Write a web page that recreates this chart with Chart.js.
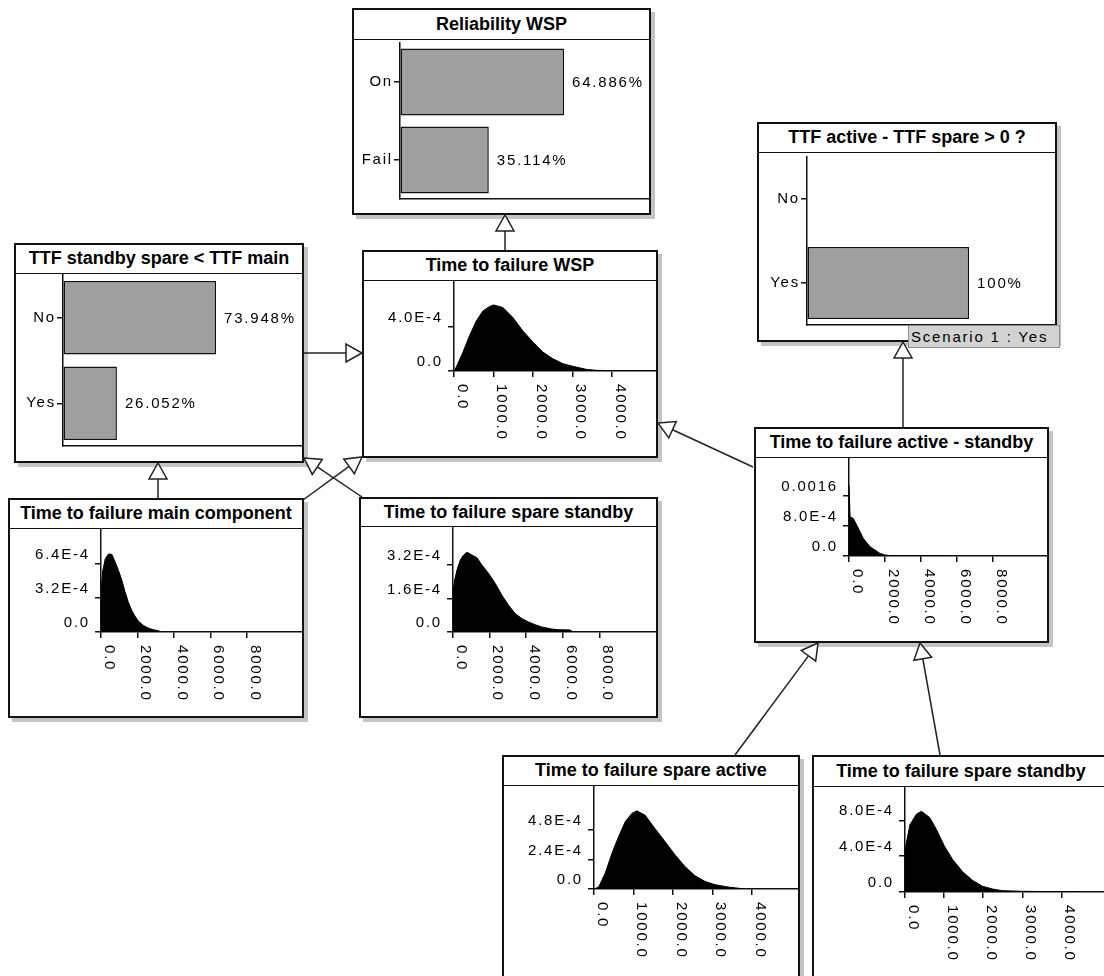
<!DOCTYPE html>
<html>
<head>
<meta charset="utf-8">
<script src="https://cdn.jsdelivr.net/npm/chart.js@4.4.1/dist/chart.umd.min.js"></script>
<style>
html, body { margin: 0; padding: 0; background: #fff; }
body { width: 1104px; height: 976px; position: relative; overflow: hidden; font-family: "Liberation Sans", Arial, sans-serif; }
.node { position: absolute; box-sizing: border-box; border: 2px solid #111; background: #fff; box-shadow: 4px 4px 0 #c4c4c4; }
.node .title { box-sizing: border-box; border-bottom: 1.5px solid #111; font-weight: bold; font-size: 18px; text-align: center; white-space: nowrap; color: #000; }
canvas.plot { position: absolute; }
#links { position: absolute; left: 0; top: 0; z-index: 5; }
.scenario { position: absolute; left: 908px; top: 325px; width: 152px; height: 23px; box-sizing: border-box; background: #d2d2d2; border: 1px solid #8c8c8c; font-size: 15px; letter-spacing: 1.8px; line-height: 21px; padding-left: 2px; white-space: nowrap; z-index: 6; }
</style>
</head>
<body>
<svg id="links" width="1104" height="976"></svg>
<div class="scenario">Scenario 1 : Yes</div>
<script>
// ---- data ----
// discrete nodes (percent)
const reliabilityStates = ['On', 'Fail'];
const reliabilityPct = [64.886, 35.114];
const standbyLessStates = ['No', 'Yes'];
const standbyLessPct = [73.948, 26.052];
const activeMinusStates = ['No', 'Yes'];
const activeMinusPct = [0, 100];

// continuous nodes: bin x, density in units of 1E-4
const wspX = [0, 59, 228, 397, 565, 734, 903, 1004, 1240, 1494, 1747, 2000, 2253, 2506, 2759, 3013, 3350, 3600, 4000, 5120];
const wspY = [0, 0.36, 1.7, 3.2, 4.5, 5.4, 5.8, 5.94, 5.7, 4.8, 3.6, 2.6, 1.7, 1.1, 0.66, 0.42, 0.15, 0.06, 0.03, 0.03];

const diffX = [0, 50, 60, 240, 426, 611, 796, 981, 1167, 1444, 1722, 2000, 2300, 5600, 5650];
const diffY = [19, 19, 10.5, 10, 8.3, 6.5, 4.7, 3.6, 2.5, 1.6, 0.7, 0.27, 0.1, 0.1, 0];

const mainX = [0, 90, 234, 414, 595, 775, 955, 1135, 1315, 1495, 1676, 1856, 2036, 2306, 2576, 2847, 3117, 3300];
const mainY = [3.9, 5.7, 6.9, 7.35, 7.3, 6.6, 5.8, 4.9, 3.8, 2.8, 2.05, 1.5, 1.04, 0.63, 0.38, 0.22, 0.13, 0];

const spareSbX = [0, 91, 218, 400, 582, 764, 1036, 1309, 1582, 1945, 2309, 2673, 3036, 3400, 3764, 4127, 4491, 4855, 5400, 5764, 6400, 6450];
const spareSbY = [1.92, 2.48, 2.96, 3.44, 3.68, 3.81, 3.68, 3.55, 3.2, 2.8, 2.32, 1.76, 1.28, 0.88, 0.64, 0.48, 0.35, 0.24, 0.14, 0.11, 0.1, 0];

const spareActX = [0, 118, 286, 454, 622, 790, 958, 1084, 1294, 1546, 1798, 2050, 2300, 2555, 2807, 3059, 3395, 3689, 3750];
const spareActY = [0, 0.16, 1.3, 2.9, 4.26, 5.47, 6.15, 6.36, 6.0, 4.9, 3.85, 2.78, 1.83, 1.08, 0.62, 0.35, 0.16, 0.05, 0];

const spareSb2X = [0, 126, 295, 421, 632, 800, 1010, 1221, 1474, 1726, 1979, 2232, 2484, 2990, 3500, 4421, 4450];
const spareSb2Y = [4.7, 7.5, 8.7, 9.0, 8.3, 7.0, 5.1, 3.6, 2.26, 1.3, 0.64, 0.34, 0.15, 0.08, 0.05, 0.05, 0];

// tick values / labels
const ticks1k = [0, 1000, 2000, 3000, 4000];
const ticks2k = [0, 2000, 4000, 6000, 8000];
const wspYTicks = [0, 4e-4], wspYLabels = ['0.0', '4.0E-4'];
const diffYTicks = [0, 8e-4, 16e-4], diffYLabels = ['0.0', '8.0E-4', '0.0016'];
const mainYTicks = [0, 3.2e-4, 6.4e-4], mainYLabels = ['0.0', '3.2E-4', '6.4E-4'];
const spareSbYTicks = [0, 1.6e-4, 3.2e-4], spareSbYLabels = ['0.0', '1.6E-4', '3.2E-4'];
const spareActYTicks = [0, 2.4e-4, 4.8e-4], spareActYLabels = ['0.0', '2.4E-4', '4.8E-4'];
const spareSb2YTicks = [0, 4e-4, 8e-4], spareSb2YLabels = ['0.0', '4.0E-4', '8.0E-4'];

// ---- helpers ----
const FONT = '"Liberation Sans", Arial, sans-serif';
const INK = '#111';

Chart.register({
  id: 'spacing',
  beforeDraw(chart) { chart.ctx.letterSpacing = '1.8px'; }
});

function makeNode(title, b) {
  const d = document.createElement('div');
  d.className = 'node';
  Object.assign(d.style, { left: b.x + 'px', top: b.y + 'px', width: b.w + 'px', height: b.h + 'px' });
  const t = document.createElement('div');
  t.className = 'title';
  t.style.height = (b.t - 2) + 'px';
  t.style.lineHeight = (b.t - 3.5) + 'px';
  t.textContent = title;
  d.appendChild(t);
  document.body.appendChild(d);
  const c = document.createElement('canvas');
  c.className = 'plot';
  const cl = b.x + 2, ct = b.y + b.t, cw = b.w - 4, ch = b.h - b.t - 2;
  c.width = cw; c.height = ch;
  Object.assign(c.style, { left: cl + 'px', top: ct + 'px', width: cw + 'px', height: ch + 'px' });
  document.body.appendChild(c);
  return { canvas: c, cl, ct, cw, ch };
}

function axisStyle() {
  return {
    grid: { drawOnChartArea: false, drawTicks: true, tickLength: 6, color: INK, lineWidth: 1.5 },
    border: { display: true, color: INK, width: 1.5 }
  };
}

function histNode(title, b, xs, ys, xTicks, xMax, yTicks, yLabels, yMax, axisX, axisY, axisTop) {
  const n = makeNode(title, b);
  const yW = axisX - n.cl, xH = n.ct + n.ch - axisY, padTop = Math.max(0, axisTop - n.ct);
  const xLabels = {
    id: 'xlabels',
    afterDraw(chart) {
      const s = chart.scales.x, ctx = chart.ctx;
      ctx.save();
      ctx.font = '15px ' + FONT;
      ctx.letterSpacing = '1.8px';
      ctx.fillStyle = '#000';
      s.ticks.forEach(t => {
        const px = s.getPixelForValue(t.value);
        ctx.save();
        ctx.translate(px + 8, s.top + 13);
        ctx.rotate(Math.PI / 2);
        ctx.textAlign = 'left';
        ctx.textBaseline = 'middle';
        ctx.fillText(t.value.toFixed(1), 0, 0);
        ctx.restore();
      });
      ctx.restore();
    }
  };
  new Chart(n.canvas, {
    type: 'line',
    data: {
      datasets: [{
        data: xs.map((x, i) => ({ x: x, y: ys[i] * 1e-4 })),
        borderColor: '#000', borderWidth: 1, backgroundColor: '#000',
        fill: 'origin', pointRadius: 0, tension: 0
      }]
    },
    options: {
      responsive: false, animation: false, events: [],
      layout: { padding: { top: padTop, left: 0, right: 0, bottom: 0 } },
      plugins: { legend: { display: false }, tooltip: { enabled: false } },
      scales: {
        x: Object.assign(axisStyle(), {
          type: 'linear', min: 0, max: xMax,
          ticks: { display: false },
          afterBuildTicks: s => { s.ticks = xTicks.map(v => ({ value: v })); },
          afterFit: s => { s.height = xH; s.paddingLeft = 0; s.paddingRight = 0; }
        }),
        y: Object.assign(axisStyle(), {
          type: 'linear', min: 0, max: yMax,
          ticks: { color: '#000', font: { family: FONT, size: 15 }, padding: 5, labelOffset: -9,
                   callback: (v, i) => yLabels[i] },
          afterBuildTicks: s => { s.ticks = yTicks.map(v => ({ value: v })); },
          afterFit: s => { s.width = yW; s.paddingTop = 0; s.paddingBottom = 0; }
        })
      }
    },
    plugins: [xLabels]
  });
}

function barNode(title, b, states, pct, xMax, axisX, top, bottom) {
  const n = makeNode(title, b);
  const yW = axisX - n.cl, xH = n.ct + n.ch - bottom, padTop = Math.max(0, top - n.ct);
  const valueLabels = {
    id: 'values',
    afterDatasetsDraw(chart) {
      const ctx = chart.ctx;
      ctx.save();
      ctx.font = '15px ' + FONT;
      ctx.letterSpacing = '1.8px';
      ctx.fillStyle = '#000';
      ctx.textAlign = 'left';
      ctx.textBaseline = 'middle';
      chart.getDatasetMeta(0).data.forEach((bar, i) => {
        const v = pct[i];
        if (v <= 0) return;
        const txt = (v === 100 ? '100' : v.toFixed(3)) + '%';
        ctx.fillText(txt, bar.x + 8, bar.y + 1);
      });
      ctx.restore();
    }
  };
  new Chart(n.canvas, {
    type: 'bar',
    data: {
      labels: states,
      datasets: [{
        data: pct, backgroundColor: '#9f9f9f', borderColor: INK, borderWidth: 1.5,
        borderSkipped: false, categoryPercentage: 1, barPercentage: 0.86
      }]
    },
    options: {
      indexAxis: 'y', responsive: false, animation: false, events: [],
      layout: { padding: { top: padTop, left: 0, right: 0, bottom: 0 } },
      plugins: { legend: { display: false }, tooltip: { enabled: false } },
      scales: {
        x: {
          type: 'linear', min: 0, max: xMax,
          ticks: { display: false },
          grid: { drawOnChartArea: false, drawTicks: false },
          border: { display: true, color: INK, width: 1.5 },
          afterFit: s => { s.height = xH; s.paddingLeft = 0; s.paddingRight = 0; }
        },
        y: {
          type: 'category',
          grid: { offset: false, drawOnChartArea: false, drawTicks: true, tickLength: 6, color: INK, lineWidth: 1.5 },
          border: { display: true, color: INK, width: 1.5 },
          ticks: { color: '#000', font: { family: FONT, size: 15 }, padding: 1 },
          afterFit: s => { s.width = yW; s.paddingTop = 0; s.paddingBottom = 0; }
        }
      }
    },
    plugins: [valueLabels]
  });
}

// ---- nodes ----
barNode('Reliability WSP', { x: 352, y: 8, w: 299, h: 207, t: 32 }, reliabilityStates, reliabilityPct, 98.5, 400, 43, 199);
barNode('TTF standby spare < TTF main', { x: 14, y: 243, w: 290, h: 220, t: 31 }, standbyLessStates, standbyLessPct, 115.5, 63, 275, 446);
barNode('TTF active - TTF spare > 0 ?', { x: 757, y: 122, w: 300, h: 220, t: 31 }, activeMinusStates, activeMinusPct, 153, 807, 157, 325);

histNode('Time to failure WSP', { x: 362, y: 250, w: 296, h: 208, t: 31 }, wspX, wspY, ticks1k, 5120, wspYTicks, wspYLabels, 8e-4, 454, 371, 282);
histNode('Time to failure active - standby', { x: 754, y: 427, w: 295, h: 216, t: 31 }, diffX, diffY, ticks2k, 11000, diffYTicks, diffYLabels, 2.59e-3, 849, 556, 459);
histNode('Time to failure main component', { x: 8, y: 498, w: 296, h: 220, t: 31 }, mainX, mainY, ticks2k, 11000, mainYTicks, mainYLabels, 9.6e-4, 101, 632, 530);
histNode('Time to failure spare standby', { x: 359, y: 497, w: 299, h: 221, t: 30 }, spareSbX, spareSbY, ticks2k, 11100, spareSbYTicks, spareSbYLabels, 4.97e-4, 453, 632, 528);
histNode('Time to failure spare active', { x: 502, y: 755, w: 298, h: 240, t: 31 }, spareActX, spareActY, ticks1k, 5160, spareActYTicks, spareActYLabels, 8.3e-4, 594, 889, 787);
histNode('Time to failure spare standby', { x: 812, y: 755, w: 298, h: 240, t: 32 }, spareSb2X, spareSb2Y, ticks1k, 5190, spareSb2YTicks, spareSb2YLabels, 11.6e-4, 905, 892, 788);

// ---- links between nodes (from, to arrow tip) ----
const links = [
  [505, 250, 505, 215],
  [304, 353, 362, 353],
  [158, 498, 158, 463],
  [303, 500, 362, 457],
  [362, 497, 304, 458],
  [753, 467, 658, 423],
  [903, 427, 903, 342],
  [735, 755, 818, 643],
  [940, 755, 920, 643]
];
const svg = document.getElementById('links');
const NS = 'http://www.w3.org/2000/svg';
links.forEach(([x1, y1, x2, y2]) => {
  const dx = x2 - x1, dy = y2 - y1, len = Math.hypot(dx, dy);
  const ux = dx / len, uy = dy / len, nx = -uy, ny = ux;
  const bx = x2 - ux * 16, by = y2 - uy * 16;
  const line = document.createElementNS(NS, 'line');
  line.setAttribute('x1', x1); line.setAttribute('y1', y1);
  line.setAttribute('x2', bx); line.setAttribute('y2', by);
  line.setAttribute('stroke', '#222'); line.setAttribute('stroke-width', '1.5');
  svg.appendChild(line);
  const tri = document.createElementNS(NS, 'polygon');
  tri.setAttribute('points', `${x2},${y2} ${bx + nx * 9},${by + ny * 9} ${bx - nx * 9},${by - ny * 9}`);
  tri.setAttribute('fill', '#fff'); tri.setAttribute('stroke', '#222'); tri.setAttribute('stroke-width', '1.5');
  svg.appendChild(tri);
});
</script>
</body>
</html>
